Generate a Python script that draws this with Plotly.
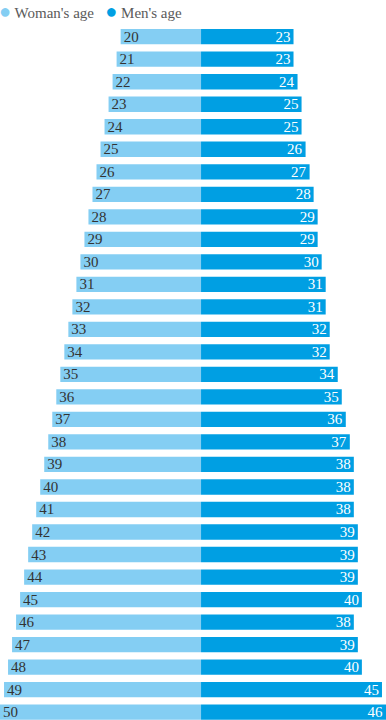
import plotly.graph_objects as go

woman_age = [20, 21, 22, 23, 24, 25, 26, 27, 28, 29, 30, 31, 32, 33, 34, 35,
             36, 37, 38, 39, 40, 41, 42, 43, 44, 45, 46, 47, 48, 49, 50]
men_age = [23, 23, 24, 25, 25, 26, 27, 28, 29, 29, 30, 31, 31, 32, 32, 34,
           35, 36, 37, 38, 38, 38, 39, 39, 39, 40, 38, 39, 40, 45, 46]
series_names = ["Woman's age", "Men's age"]

LIGHT = "#84cef3"
DARK = "#009fe3"
FONT = "Liberation Serif, DejaVu Serif, serif"

rows = list(range(len(woman_age)))

fig = go.Figure()
fig.add_trace(go.Bar(
    y=rows, x=[-v for v in woman_age], orientation="h",
    marker=dict(color=LIGHT, line=dict(width=0)),
    width=0.68, name=series_names[0], showlegend=False,
    text=[str(v) for v in woman_age], textposition="inside",
    insidetextanchor="end", textangle=0, constraintext="none",
    textfont=dict(color="#333333", size=15, family=FONT),
    cliponaxis=False, hoverinfo="skip",
))
fig.add_trace(go.Bar(
    y=rows, x=men_age, orientation="h",
    marker=dict(color=DARK, line=dict(width=0)),
    width=0.68, name=series_names[1], showlegend=False,
    text=[str(v) for v in men_age], textposition="inside",
    insidetextanchor="end", textangle=0, constraintext="none",
    textfont=dict(color="#ffffff", size=15, family=FONT),
    cliponaxis=False, hoverinfo="skip",
))

dot = '<span style="color:{c};font-size:20px">●</span>'
fig.add_annotation(
    x=0, y=1, xref="paper", yref="paper", xanchor="left", yanchor="top",
    xshift=-3, yshift=2, showarrow=False, align="left",
    text=(dot.format(c=LIGHT) + " " + series_names[0] + "   "
          + dot.format(c=DARK) + " " + series_names[1]),
    font=dict(family=FONT, size=15, color="#5a5a5a"),
)

fig.update_layout(
    width=386, height=720,
    margin=dict(l=0, r=0, t=0, b=0),
    paper_bgcolor="white", plot_bgcolor="white",
    barmode="relative",
    xaxis=dict(range=[-50.0, 46.0], visible=False, fixedrange=True),
    yaxis=dict(range=[30.35, -1.63], visible=False, fixedrange=True),
    showlegend=False,
)

fig.write_html("out.html", config={"displayModeBar": False},
               post_script="document.body.style.margin='0';")
